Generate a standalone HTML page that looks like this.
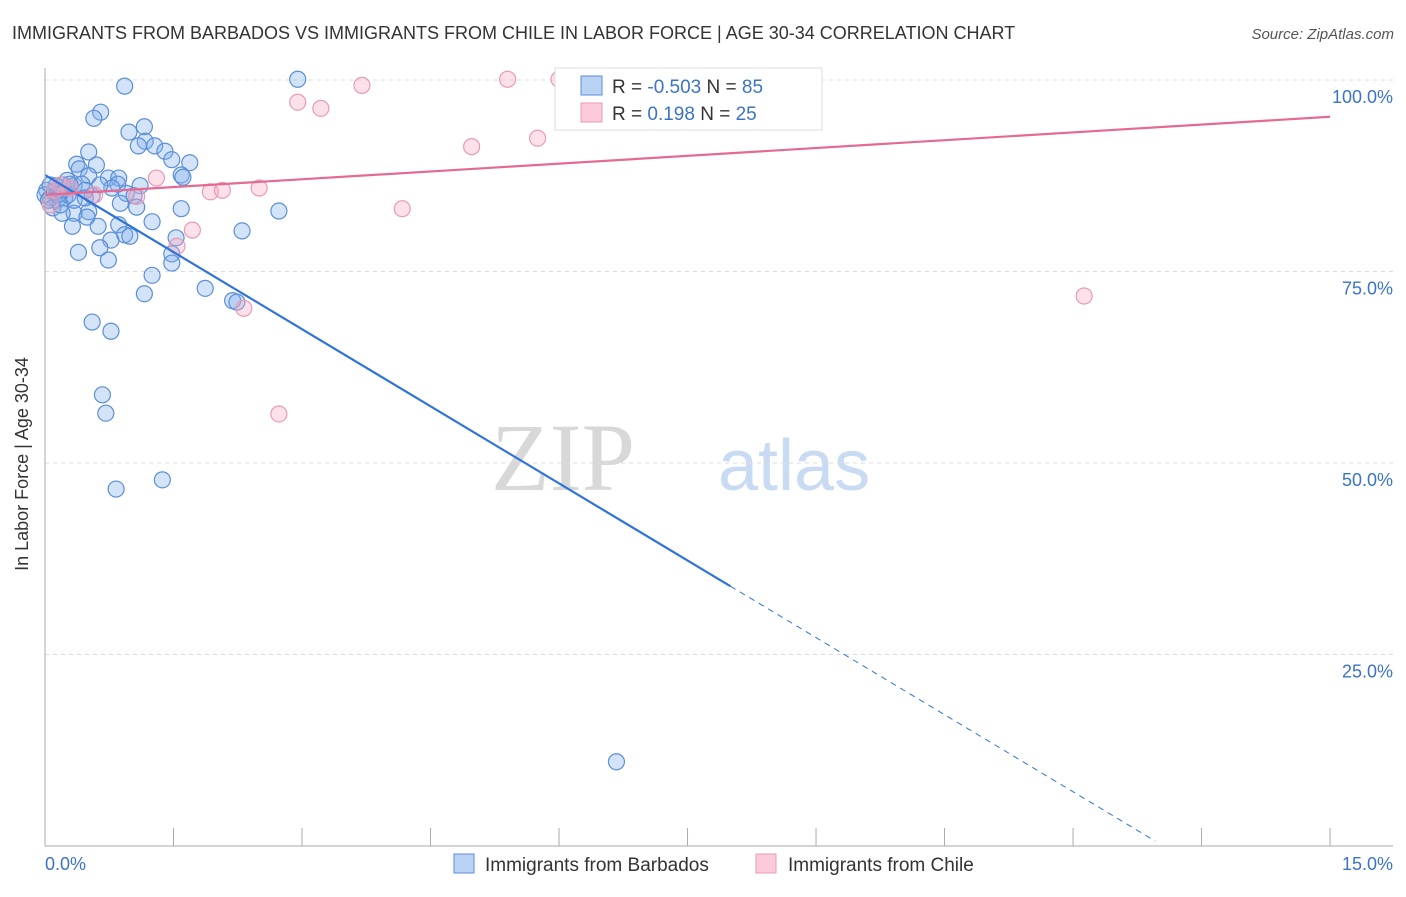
<!DOCTYPE html>
<html><head><meta charset="utf-8"><style>
body{margin:0;background:#fff;font-family:"Liberation Sans",sans-serif}
</style></head><body>
<svg id="c" width="1406" height="892" xmlns="http://www.w3.org/2000/svg">
<text x="12" y="39" font-size="18" fill="#333">IMMIGRANTS FROM BARBADOS VS IMMIGRANTS FROM CHILE IN LABOR FORCE | AGE 30-34 CORRELATION CHART</text>
<text x="1394" y="39" font-size="15" fill="#555" font-style="italic" text-anchor="end">Source: ZipAtlas.com</text>
<text x="635" y="490" font-size="96" fill="#d8d8d8" text-anchor="end" font-family="Liberation Serif,serif">ZIP</text>
<text x="718" y="490" font-size="72" fill="#c9dbf3">atlas</text>
<g id="grid"></g><g id="pts"></g><g id="lines"></g>
<line x1="45" y1="68" x2="45" y2="846" stroke="#aaa"/>
<line x1="45" y1="846" x2="1393" y2="846" stroke="#aaa"/>
<text x="22" y="458" font-size="18" fill="#333" text-anchor="middle" transform="rotate(-90 28 458)">In Labor Force | Age 30-34</text>
<text x="45" y="870" font-size="18" fill="#3b73c9">0.0%</text>
<text x="1393" y="870" font-size="18" fill="#3b73c9" text-anchor="end">15.0%</text>
<g>
<rect x="555" y="68" width="267" height="62" fill="#fff" stroke="#ddd"/>
<rect x="581" y="76" width="21" height="19" fill="#b9d3f5" stroke="#5b8ed8"/>
<rect x="581" y="103" width="21" height="19" fill="#fbcadb" stroke="#e99ab5"/>
<text x="612" y="93" font-size="19" fill="#333">R = <tspan fill="#3b73c9">-0.503</tspan>   N = <tspan fill="#3b73c9">85</tspan></text>
<text x="612" y="120" font-size="19" fill="#333">R =    <tspan fill="#3b73c9">0.198</tspan>   N = <tspan fill="#3b73c9">25</tspan></text>
</g>
<g><rect x="454" y="854" width="20" height="19" fill="#b9d3f5" stroke="#5b8ed8"/><text x="485" y="871" font-size="19" fill="#333">Immigrants from Barbados</text></g>
<g><rect x="756" y="854" width="20" height="19" fill="#fbcadb" stroke="#e99ab5"/><text x="788" y="871" font-size="19" fill="#333">Immigrants from Chile</text></g>
</svg>
<script>
const yTicks=[100,75,50,25];
const yTickLabels=["100.0%","75.0%","50.0%","25.0%"];
const xTicks=[0,1.5,3,4.5,6,7.5,9,10.5,12,13.5,15];
const barbadosX=[0.93,2.95,0.65,0.57,0.98,1.16,1.17,1.09,1.28,1.40,0.51,1.48,1.69,0.37,0.60,0.40,1.59,1.61,0.51,0.74,0.86,0.26,0.13,0.21,0.34,0.43,0.85,1.11,0.02,0.11,0.18,0.29,0.95,1.04,0.55,0.23,0.06,0.14,0,0.88,1.07,0.09,1.59,2.73,0.34,0.20,0.51,0.49,1.25,0.86,0.32,0.62,2.30,0.93,0.99,0.77,1.53,0.64,0.39,1.48,0.74,1.48,1.25,1.87,1.16,2.19,2.24,0.55,0.77,0.67,0.71,0.83,1.37,6.67,0.04,0.15,0.27,0.47,0.78,0.06,0.18,0.34,0.64,0.29,0.47];
const barbadosY=[99.2,100.1,95.8,95.0,93.2,93.9,92.0,91.4,91.4,90.7,90.6,89.6,89.2,89.0,88.9,88.4,87.6,87.3,87.5,87.2,87.2,86.9,86.2,86.3,86.2,86.4,86.4,86.2,85.6,85.4,85.2,85.9,85.2,84.9,84.9,84.6,84.6,84.3,85.0,83.9,83.4,83.3,83.2,82.9,82.6,82.6,82.8,82.1,81.5,81.1,80.9,80.9,80.3,79.8,79.6,79.1,79.4,78.1,77.5,77.3,76.5,76.1,74.5,72.8,72.1,71.2,71.0,68.4,67.2,58.9,56.5,46.6,47.8,11.0,84.3,85.0,85.0,85.6,85.9,86.3,83.7,84.3,86.3,86.4,84.6];
const chileX=[2.95,3.22,3.70,5.40,6.00,7.96,6.86,4.98,5.75,1.30,1.93,2.07,2.50,4.17,12.13,1.72,1.54,2.32,2.73,1.07,0.58,0.29,0.12,0.06,0.18];
const chileY=[97.1,96.3,99.3,100.1,100.1,100.1,97.4,91.3,92.4,87.2,85.4,85.6,85.9,83.2,71.8,80.4,78.3,70.2,56.4,84.8,85.0,85.9,85.6,83.7,86.3];
const barbadosTrend=[87.6,-6.71];
const chileTrend=[85.0,0.68];
const sx=v=>45+v*85.67, sy=v=>846-v*7.66;
const NS="http://www.w3.org/2000/svg";
function mk(t,a,p){const e=document.createElementNS(NS,t);for(const k in a)e.setAttribute(k,a[k]);p.appendChild(e);return e;}
const grid=document.getElementById('grid');
yTicks.forEach((v,i)=>{
const l=mk('line',{x1:45,x2:1393,y1:sy(v),y2:sy(v),stroke:'#ddd','stroke-dasharray':'4 4'},grid);


const t=mk('text',{x:1393,y:sy(v)+23,'font-size':18,fill:'#3b73c9','text-anchor':'end'},grid);
t.textContent=yTickLabels[i];


});
xTicks.forEach(v=>{
const l=mk('line',{x1:sx(v),x2:sx(v),y1:828,y2:846,stroke:'#aaa'},grid);


});
const pts=document.getElementById('pts');
barbadosX.forEach((x,i)=>{
const c=mk('circle',{cx:sx(x),cy:sy(barbadosY[i]),r:8,fill:'rgba(130,175,235,0.35)',stroke:'#5b8ed8','stroke-width':1.2},pts);


});
chileX.forEach((x,i)=>{
const c=mk('circle',{cx:sx(x),cy:sy(chileY[i]),r:8,fill:'rgba(245,170,195,0.35)',stroke:'#e99ab5','stroke-width':1.2},pts);


});
const lines=document.getElementById('lines');
const bt=x=>barbadosTrend[0]+barbadosTrend[1]*x;
let l1=mk('line',{x1:sx(0),y1:sy(bt(0)),x2:sx(8),y2:sy(bt(8)),stroke:'#2f74d8','stroke-width':2.2},lines);


let l2=mk('line',{x1:sx(8),y1:sy(bt(8)),x2:sx(12.96),y2:sy(bt(12.96)),stroke:'#2f74d8','stroke-width':1,'stroke-dasharray':'6 5'},lines);


const ct=x=>chileTrend[0]+chileTrend[1]*x;
let l3=mk('line',{x1:sx(0),y1:sy(ct(0)),x2:sx(15),y2:sy(ct(15)),stroke:'#e56a93','stroke-width':2.2},lines);


</script>
</body></html>
